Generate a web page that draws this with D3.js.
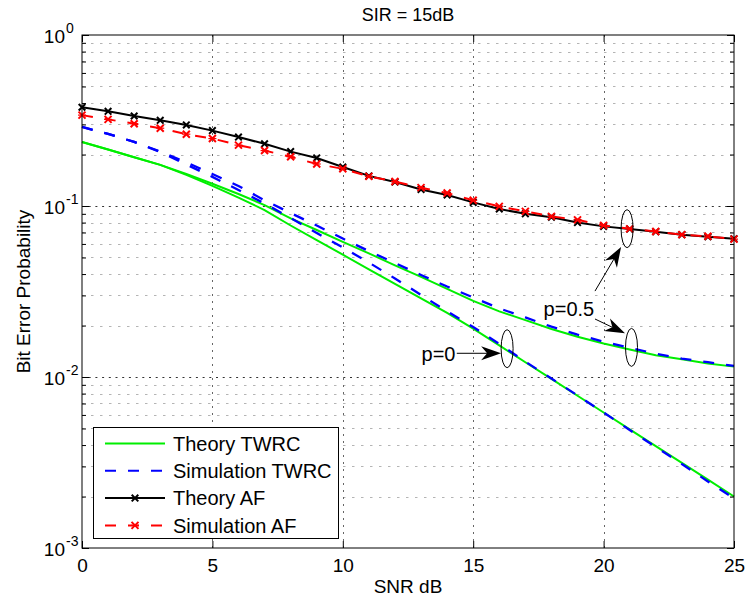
<!DOCTYPE html>
<html>
<head>
<meta charset="utf-8">
<script src="https://cdn.jsdelivr.net/npm/d3@7"></script>
<style>
body { margin: 0; background: #fff; }
svg { display: block; font-family: "Liberation Sans", Arial, Helvetica, sans-serif; }
</style>
</head>
<body>
<div id="chart"></div>
<script>
// SNR in dB
var snr = [0,1,2,3,4,5,6,7,8,9,10,11,12,13,14,15,16,17,18,19,20,21,22,23,24,25];

// bit error probability
var theoryTwrcP0  = [0.237,0.214,0.193,0.174,0.152,0.131,0.112,0.0947,0.0769,0.0632,0.0519,0.0426,0.0350,0.0288,0.0237,0.0192,0.0153,0.0122,0.00975,0.00777,0.00620,0.00494,0.00394,0.00315,0.00251,0.00200];
var theoryTwrcP05 = [0.237,0.214,0.193,0.174,0.154,0.135,0.1175,0.1013,0.0847,0.0724,0.0617,0.0528,0.0450,0.0385,0.0328,0.0279,0.0242,0.0215,0.0191,0.0172,0.0157,0.0145,0.0134,0.0127,0.0120,0.0115];
var simTwrcP0  = [0.290,0.264,0.237,0.207,0.175,0.148,0.124,0.1034,0.0851,0.0695,0.0572,0.0467,0.0377,0.0302,0.0242,0.0196,0.0156,0.0123,0.0098,0.0078,0.0062,0.0049,0.0039,0.0031,0.00245,0.00195];
var simTwrcP05 = [0.290,0.264,0.237,0.208,0.180,0.154,0.131,0.108,0.0910,0.0769,0.0645,0.0545,0.0464,0.0395,0.0338,0.0292,0.0252,0.0223,0.0197,0.0177,0.0161,0.0148,0.0137,0.0128,0.0122,0.0116];
var theoryAf = [0.378,0.358,0.336,0.317,0.298,0.276,0.253,0.231,0.208,0.191,0.169,0.150,0.138,0.125,0.116,0.105,0.096,0.090,0.086,0.080,0.076,0.0733,0.0708,0.0680,0.0661,0.0644];
var simAf    = [0.340,0.321,0.303,0.285,0.263,0.248,0.227,0.211,0.194,0.176,0.165,0.149,0.139,0.128,0.119,0.108,0.0995,0.093,0.087,0.083,0.077,0.0735,0.071,0.068,0.0665,0.064];

var xTicks = [0,5,10,15,20,25];
var yMajor = [0.001,0.01,0.1,1];
var yExp = ['-3','-2','-1','0'];
var yMinor = [0.002,0.003,0.004,0.005,0.006,0.007,0.008,0.009,
              0.02,0.03,0.04,0.05,0.06,0.07,0.08,0.09,
              0.2,0.3,0.4,0.5,0.6,0.7,0.8,0.9];

var legendNames = ['Theory TWRC','Simulation TWRC','Theory AF','Simulation AF'];

// annotation positions (snr, ber)
var ellipses = [[20.9,0.0737],[21.07,0.0149],[16.3,0.01464]];
var arrows = [[14.37,0.01376,16.07,0.01376],[19.67,0.0318,20.67,0.0576],[19.67,0.02184,20.82,0.0180]];
var notes = [['p=0',13.02,0.0124],['p=0.5',18.67,0.02283]];

var width = 748, height = 602;
var margin = {top: 35, right: 14, bottom: 54, left: 82};

var x = d3.scaleLinear().domain([0,25]).range([margin.left, width - margin.right]);
var y = d3.scaleLog().domain([1e-3,1]).range([height - margin.bottom, margin.top]);

var svg = d3.select('#chart').append('svg')
  .attr('width', width)
  .attr('height', height);

function px(v) { return Math.round(v) + 0.5; }

// grid
var grid = svg.append('g').attr('class','grid');
grid.selectAll('.ymin').data(yMinor).enter().append('line')
  .attr('x1', x(0)).attr('x2', x(25))
  .attr('y1', function(d){ return px(y(d)); }).attr('y2', function(d){ return px(y(d)); })
  .style('stroke','#b4b4b4').style('stroke-dasharray','2.5,6.5');
grid.selectAll('.ymaj').data(yMajor.slice(1,3)).enter().append('line')
  .attr('x1', x(0)).attr('x2', x(25))
  .attr('y1', function(d){ return px(y(d)); }).attr('y2', function(d){ return px(y(d)); })
  .style('stroke','#333').style('stroke-dasharray','2,4.7');
grid.selectAll('.xmaj').data(xTicks.slice(1,5)).enter().append('line')
  .attr('x1', function(d){ return px(x(d)); }).attr('x2', function(d){ return px(x(d)); })
  .attr('y1', y(1)).attr('y2', y(1e-3))
  .style('stroke','#666').style('stroke-dasharray','2,5');

// curves
var line = d3.line()
  .x(function(d){ return x(d[0]); })
  .y(function(d){ return y(d[1]); });

function zip(vals) { return snr.map(function(s,i){ return [s, vals[i]]; }); }

var series = [
  {v: theoryTwrcP05, c: '#00ee00', dash: null, w: 2},
  {v: theoryTwrcP0,  c: '#00ee00', dash: null, w: 2},
  {v: simTwrcP05, c: '#0000ff', dash: '11,12', w: 2.3},
  {v: simTwrcP0,  c: '#0000ff', dash: '11,12', w: 2.3},
  {v: theoryAf, c: '#000', dash: null, w: 2, marker: 'x'},
  {v: simAf, c: '#ff0000', dash: '11,12', w: 2, marker: '*'}
];

var plot = svg.append('g').attr('class','plot');

function drawMarker(g, cx, cy, type, color) {
  var s = type === 'x' ? 3.3 : 3.5;
  var p = 'M'+(cx-s)+','+(cy-s)+'L'+(cx+s)+','+(cy+s)+'M'+(cx-s)+','+(cy+s)+'L'+(cx+s)+','+(cy-s);
  g.append('path').attr('d', p).style('stroke', color).style('stroke-width', 2).style('fill','none');
  if (type === '*') {
    g.append('path').attr('d', 'M'+(cx-s-0.5)+','+cy+'L'+(cx+s+0.5)+','+cy)
      .style('stroke', color).style('stroke-width', 1.2).style('fill','none');
  }
}

series.forEach(function(s) {
  plot.append('path')
    .datum(zip(s.v))
    .attr('d', line)
    .style('fill','none')
    .style('stroke', s.c)
    .style('stroke-width', s.w)
    .style('stroke-dasharray', s.dash);
  if (s.marker) {
    zip(s.v).forEach(function(d) {
      drawMarker(plot, x(d[0]), y(d[1]), s.marker, s.c);
    });
  }
});

// axes (ticks inward)
var fs = '19px';
var xb = svg.append('g').attr('transform','translate(0,' + y(1e-3) + ')')
  .call(d3.axisBottom(x).tickValues(xTicks).tickSize(-7).tickPadding(11).tickFormat(d3.format('d')));
svg.append('g').attr('transform','translate(0,' + y(1) + ')')
  .call(d3.axisTop(x).tickValues(xTicks).tickSize(-7).tickFormat(''));
svg.append('g').attr('transform','translate(' + x(0) + ',0)')
  .call(d3.axisLeft(y).tickValues(yMajor).tickSize(-7).tickFormat(''));
svg.append('g').attr('transform','translate(' + x(0) + ',0)')
  .call(d3.axisLeft(y).tickValues(yMinor).tickSize(-4).tickFormat(''));
svg.append('g').attr('transform','translate(' + x(25) + ',0)')
  .call(d3.axisRight(y).tickValues(yMajor).tickSize(-7).tickFormat(''));
svg.append('g').attr('transform','translate(' + x(25) + ',0)')
  .call(d3.axisRight(y).tickValues(yMinor).tickSize(-4).tickFormat(''));
svg.selectAll('.domain').remove();
svg.selectAll('.tick line').style('stroke','#000');
xb.selectAll('text').style('font-size', fs).style('fill','#000').style('font-family','"Liberation Sans", Arial, sans-serif');

// y tick labels 10^k
var yl = svg.append('g');
yMajor.forEach(function(d, i) {
  yl.append('text').attr('x', 65).attr('y', y(d) + 8)
    .attr('text-anchor','end').style('font-size', fs).text('10');
  yl.append('text').attr('x', 66).attr('y', y(d) - 2)
    .style('font-size','14px').text(yExp[i]);
});

// box
svg.append('rect')
  .attr('x', px(x(0)) - 0.5).attr('y', px(y(1)) - 0.5)
  .attr('width', Math.round(x(25) - x(0))).attr('height', Math.round(y(1e-3) - y(1)))
  .style('fill','none').style('stroke','#000').style('stroke-width',1);

// annotations
var ann = svg.append('g');
ellipses.forEach(function(e) {
  ann.append('ellipse').attr('cx', x(e[0])).attr('cy', y(e[1]))
    .attr('rx', 6).attr('ry', 19)
    .style('fill','none').style('stroke','#000').style('stroke-width',1);
});

function arrow(g, x1, y1, x2, y2) {
  var dx = x2 - x1, dy = y2 - y1, len = Math.sqrt(dx*dx + dy*dy);
  var ux = dx/len, uy = dy/len, nx = -uy, ny = ux;
  var hl = 20, hw = 7, notch = 14;
  g.append('line').attr('x1', x1).attr('y1', y1)
    .attr('x2', x2 - ux*notch).attr('y2', y2 - uy*notch)
    .style('stroke','#000').style('stroke-width',1);
  g.append('path')
    .attr('d', 'M' + x2 + ',' + y2 +
      'L' + (x2 - ux*hl + nx*hw) + ',' + (y2 - uy*hl + ny*hw) +
      'L' + (x2 - ux*notch) + ',' + (y2 - uy*notch) +
      'L' + (x2 - ux*hl - nx*hw) + ',' + (y2 - uy*hl - ny*hw) + 'Z')
    .style('fill','#000');
}
arrows.forEach(function(a) {
  arrow(ann, x(a[0]), y(a[1]), x(a[2]), y(a[3]));
});
ann.append('text').attr('x', x(notes[0][1])).attr('y', y(notes[0][2]))
  .style('font-size','20px').text(notes[0][0]);
ann.append('text').attr('x', x(notes[1][1])).attr('y', y(notes[1][2]))
  .attr('text-anchor','middle').style('font-size','20px').text(notes[1][0]);

// legend
var lg = svg.append('g').attr('transform','translate(93,427)');
lg.append('rect').attr('x', 0.5).attr('y', 0.5).attr('width', 245).attr('height', 111)
  .style('fill','#fff').style('stroke','#000').style('stroke-width',1);
series.filter(function(s, i){ return i % 2 === 0 || i > 3; }).forEach(function(s, i) {
  var ly = 16.5 + i * 27.3;
  lg.append('line').attr('x1', 12).attr('x2', 72).attr('y1', ly).attr('y2', ly)
    .style('stroke', s.c).style('stroke-width', 2)
    .style('stroke-dasharray', s.dash);
  if (s.marker) drawMarker(lg, 42, ly, s.marker, s.c);
  lg.append('text').attr('x', 80).attr('y', ly).attr('dy','0.36em')
    .style('font-size','20px').text(legendNames[i]);
});

// titles
svg.append('text').attr('x', (x(0) + x(25)) / 2).attr('y', 21)
  .attr('text-anchor','middle').style('font-size','18px').text('SIR = 15dB');
svg.append('text').attr('x', (x(0) + x(25)) / 2).attr('y', 593)
  .attr('text-anchor','middle').style('font-size', fs).text('SNR dB');
svg.append('text')
  .attr('transform','translate(30,' + (y(1) + y(1e-3)) / 2 + ') rotate(-90)')
  .attr('text-anchor','middle').style('font-size', fs).text('Bit Error Probability');
</script>
</body>
</html>
